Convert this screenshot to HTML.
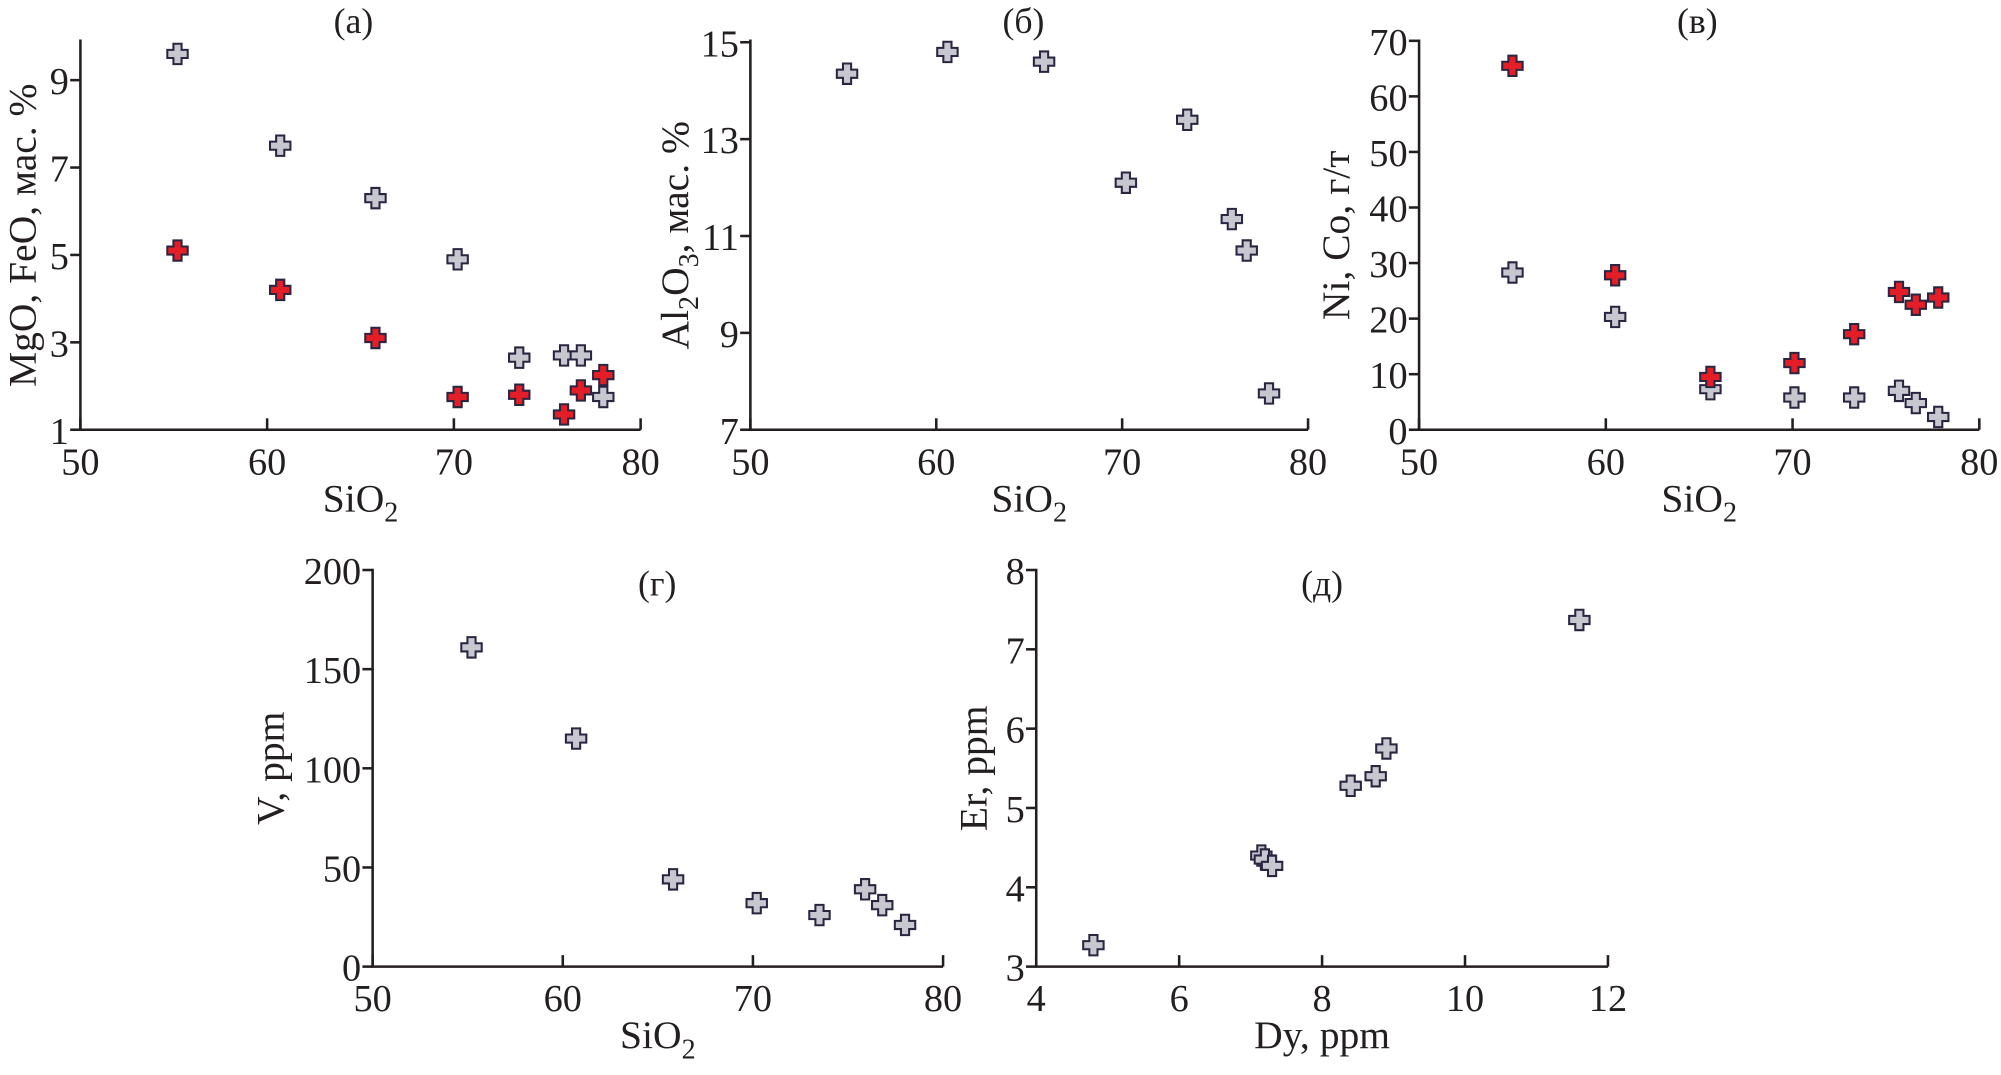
<!DOCTYPE html>
<html><head><meta charset="utf-8">
<style>
html,body{margin:0;padding:0;background:#fff;}
svg{display:block;}
text{font-family:"Liberation Serif","DejaVu Serif",serif;fill:#231f20;}
</style></head>
<body>
<svg id="fig" width="2001" height="1075" viewBox="0 0 1568 843" preserveAspectRatio="none" xmlns="http://www.w3.org/2000/svg"></svg>
<script>
// ---- data ----
const siA = [55.2, 60.7, 65.8, 70.2, 73.5, 75.9, 76.8, 78.0];
const feoGray = [9.6, 7.5, 6.3, 4.9, 2.65, 2.7, 2.7, 1.75];
const siARed = [55.2, 60.7, 65.8, 70.2, 73.5, 75.9, 76.8, 78.0];
const mgoRed = [5.1, 4.2, 3.1, 1.75, 1.8, 1.35, 1.9, 2.25];
const siB = [55.2, 60.6, 65.8, 70.2, 73.5, 75.9, 76.7, 77.9];
const al2o3 = [14.35, 14.8, 14.6, 12.1, 13.4, 11.35, 10.7, 7.75];
const siC = [55.0, 60.5, 65.6, 70.1, 73.3, 75.7, 76.6, 77.8];
const niRed = [65.5, 27.8, 9.5, 12.0, 17.2, 24.8, 22.5, 23.8];
const coGray = [28.3, 20.3, 7.3, 5.8, 5.8, 7.0, 4.8, 2.3];
const siD = [55.2, 60.7, 65.8, 70.2, 73.5, 75.9, 76.8, 78.0];
const vppm = [161, 115, 44, 32, 26, 39, 31, 21];
const dy = [4.8, 7.15, 7.2, 7.3, 8.4, 8.75, 8.9, 11.6];
const er = [3.27, 4.4, 4.35, 4.27, 5.28, 5.4, 5.75, 7.37];
const ticksSi = [50, 60, 70, 80];
const ticksA = [1, 3, 5, 7, 9];
const ticksB = [7, 9, 11, 13, 15];
const ticksC = [0, 10, 20, 30, 40, 50, 60, 70];
const ticksD = [0, 50, 100, 150, 200];
const ticksDy = [4, 6, 8, 10, 12];
const ticksEr = [3, 4, 5, 6, 7, 8];

const NS = "http://www.w3.org/2000/svg";
const svg = document.getElementById('fig');
function mk(tag, attrs, parent){
  const e = document.createElementNS(NS, tag);
  for (const k in attrs) e.setAttribute(k, attrs[k]);
  (parent||svg).appendChild(e);
  return e;
}
function plus(g, cx, cy, fill){
  const a = 3.2, b = 8;
  const d = `M${cx-a},${cy-b}H${cx+a}V${cy-a}H${cx+b}V${cy+a}H${cx+a}V${cy+b}H${cx-a}V${cy+a}H${cx-b}V${cy-a}H${cx-a}Z`;
  const p = mk('path', {d:d, fill:fill, stroke:'#2a2540', 'stroke-width':1.6}, g);
  
  
}
function panel(o){
  const g = mk('g', {});
  
  
  const X = v => o.x0 + (v - o.xmin) / (o.xmax - o.xmin) * (o.x1 - o.x0);
  const Y = v => o.y0 - (v - o.ymin) / (o.ymax - o.ymin) * (o.y0 - o.y1);
  const ax = mk('path', {d:`M${o.x0},${o.y1-1}V${o.y0}H${X(o.xt[o.xt.length-1])}`, fill:'none', stroke:'#231f20', 'stroke-width':2}, g);
  
  
  o.xt.forEach(t => {
    const l = mk('line', {x1:X(t), x2:X(t), y1:o.y0, y2:o.y0-9, stroke:'#231f20', 'stroke-width':2}, g);
    
    
    const tx = mk('text', {x:X(t), y:o.y0+35, 'text-anchor':'middle', 'font-size':30}, g);
    
    
    tx.textContent = t;
  });
  o.yt.forEach(t => {
    const l = mk('line', {x1:o.x0, x2:o.x0-8, y1:Y(t), y2:Y(t), stroke:'#231f20', 'stroke-width':2}, g);
    
    
    const tx = mk('text', {x:o.x0-9, y:Y(t)+11, 'text-anchor':'end', 'font-size':30}, g);
    
    
    tx.textContent = t;
  });
  const ti = mk('text', {x:o.tx, y:o.ty, 'text-anchor':'middle', 'font-size':28}, g);
  
  
  ti.textContent = o.title;
  const xl = mk('text', {x:(o.x0+X(o.xt[o.xt.length-1]))/2, y:o.y0+64, 'text-anchor':'middle', 'font-size':31}, g);
  
  
  xl.innerHTML = o.xlab;
  const yl = mk('text', {transform:`translate(${o.ylx},${(o.y0+o.y1)/2}) rotate(-90)`, 'text-anchor':'middle', 'font-size':31}, g);
  
  
  yl.innerHTML = o.ylab;
  o.series.forEach(s => s.x.forEach((v, i) => plus(g, X(v), Y(s.y[i]), s.c)));
}
const GRAY = '#c6c7cf';
const SI = 'SiO<tspan dy="8" font-size="22">2</tspan>';
panel({name:'panel-a', x0:63, x1:502, y0:337, y1:32, xmin:50, xmax:80, ymin:1, ymax:9.9, xt:ticksSi, yt:ticksA,
  tx:277, ty:26, title:'(a)', xlab:SI, ylx:28, ylab:'MgO, FeO, мас. %',
  series:[{x:siA, y:feoGray, c:GRAY}, {x:siARed, y:mgoRed, c:'#e31e26'}]});
panel({name:'panel-b', x0:588, x1:1025, y0:337, y1:32, xmin:50, xmax:80, ymin:7, ymax:15.03, xt:ticksSi, yt:ticksB,
  tx:802, ty:26, title:'(б)', xlab:SI, ylx:539, ylab:'Al<tspan dy="8" font-size="22">2</tspan><tspan dy="-8">O</tspan><tspan dy="8" font-size="22">3</tspan><tspan dy="-8">, мас. %</tspan>',
  series:[{x:siB, y:al2o3, c:GRAY}]});
panel({name:'panel-c', x0:1112, x1:1551, y0:337, y1:32, xmin:50, xmax:80, ymin:0, ymax:70, xt:ticksSi, yt:ticksC,
  tx:1330, ty:26, title:'(в)', xlab:SI, ylx:1057, ylab:'Ni, Co, г/т',
  series:[{x:siC, y:coGray, c:GRAY}, {x:siC, y:niRed, c:'#e31e26'}]});
panel({name:'panel-d', x0:292, x1:739, y0:758, y1:447, xmin:50, xmax:80, ymin:0, ymax:200, xt:ticksSi, yt:ticksD,
  tx:515, ty:467, title:'(г)', xlab:SI, ylx:222, ylab:'V, ppm',
  series:[{x:siD, y:vppm, c:GRAY}]});
panel({name:'panel-e', x0:812, x1:1260, y0:758, y1:447, xmin:4, xmax:12, ymin:3, ymax:8, xt:ticksDy, yt:ticksEr,
  tx:1036, ty:467, title:'(д)', xlab:'Dy, ppm', ylx:773, ylab:'Er, ppm',
  series:[{x:dy, y:er, c:GRAY}]});
</script>
</body></html>
